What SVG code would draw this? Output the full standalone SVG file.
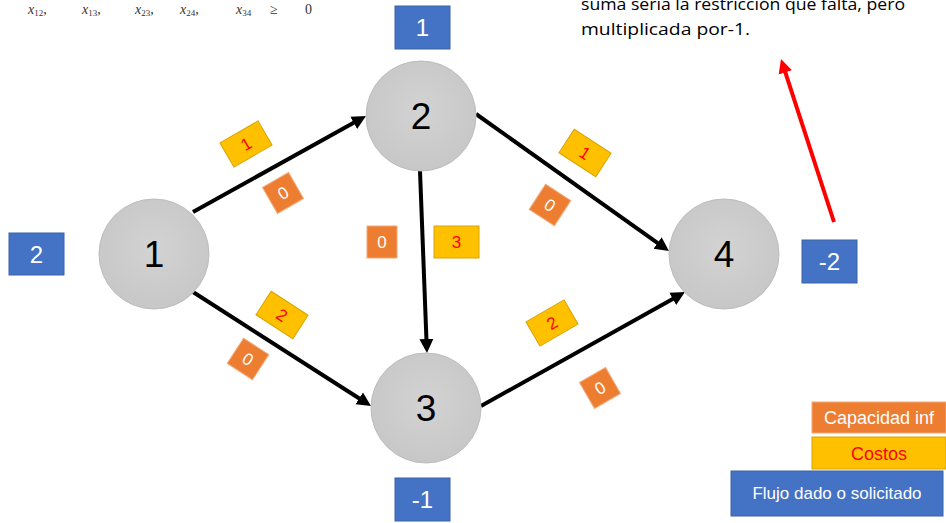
<svg xmlns="http://www.w3.org/2000/svg" width="946" height="523" viewBox="0 0 946 523">
  <defs>
    <radialGradient id="nodeFill" cx="50%" cy="45%" r="60%">
      <stop offset="0" stop-color="#d3d3d3"/>
      <stop offset="1" stop-color="#c6c6c6"/>
    </radialGradient>
    <marker id="headBlack" markerUnits="userSpaceOnUse" markerWidth="16" markerHeight="16" refX="2" refY="0" viewBox="0 -8 16 16" orient="auto">
      <path d="M0,-7 L14,0 L0,7 z" fill="#000"/>
    </marker>
    <marker id="headRed" markerUnits="userSpaceOnUse" markerWidth="16" markerHeight="16" refX="2" refY="0" viewBox="0 -8 16 16" orient="auto">
      <path d="M0,-7 L14,0 L0,7 z" fill="#ff0000"/>
    </marker>
  </defs>
  <style>
    .node circle { fill: url(#nodeFill); stroke: #bdbdbd; stroke-width: 1; }
    .node text { font-family: "Liberation Sans", Arial, sans-serif; font-size: 37px; fill: #000; text-anchor: middle; }
    .flow rect { fill: #4472c4; stroke: #3a62a8; stroke-width: 1; }
    .flow text { font-family: "Liberation Sans", Arial, sans-serif; font-size: 24px; fill: #fff; text-anchor: middle; }
    .edge { stroke: #000; stroke-width: 4; fill: none; marker-end: url(#headBlack); }
    .cost rect { fill: #ffc000; stroke: #d9a400; stroke-width: 1; }
    .cost text { font-family: "Liberation Sans", Arial, sans-serif; font-size: 17px; fill: #ff0000; text-anchor: middle; }
    .cap rect { fill: #ed7d31; stroke: #f3a877; stroke-width: 1; }
    .cap text { font-family: "Liberation Sans", Arial, sans-serif; font-size: 17px; fill: #fff; text-anchor: middle; }
    .note { font-family: "Open Sans", "Liberation Sans", sans-serif; font-size: 16px; fill: #000; }
    .math { font-family: "Liberation Serif", "DejaVu Serif", serif; font-size: 14px; fill: #333; }
    .math .it { font-style: italic; }
    .math .sub { font-size: 9px; }
    #legend .cap text, #legend .cost text { font-size: 18px; }
    #legend .flow text { font-size: 17px; }
  </style>

  <rect width="946" height="523" fill="#fff"/>

  <!-- non-negativity constraint -->
  <g class="math">
    <text x="28" y="14"><tspan class="it">x</tspan><tspan class="sub" dy="2">12</tspan><tspan dy="-2">,</tspan></text>
    <text x="82" y="14"><tspan class="it">x</tspan><tspan class="sub" dy="2">13</tspan><tspan dy="-2">,</tspan></text>
    <text x="135" y="14"><tspan class="it">x</tspan><tspan class="sub" dy="2">23</tspan><tspan dy="-2">,</tspan></text>
    <text x="180" y="14"><tspan class="it">x</tspan><tspan class="sub" dy="2">24</tspan><tspan dy="-2">,</tspan></text>
    <text x="236" y="14"><tspan class="it">x</tspan><tspan class="sub" dy="2">34</tspan></text>
    <text x="270" y="14">≥</text>
    <text x="305" y="14">0</text>
  </g>

  <!-- explanatory note -->
  <text class="note" x="581" y="10" textLength="324" lengthAdjust="spacingAndGlyphs">suma sería la restricción que falta, pero</text>
  <text class="note" x="581" y="35" textLength="169" lengthAdjust="spacingAndGlyphs">multiplicada por-1.</text>

  <!-- connectors -->
  <g id="connectors">
    <line id="e12" class="edge" x1="193" y1="212" x2="355.5" y2="121.8"/>
    <line id="e13" class="edge" x1="193" y1="292" x2="360.9" y2="399.5"/>
    <line id="e23" class="edge" x1="420" y1="171" x2="426.5" y2="341"/>
    <line id="e24" class="edge" x1="476" y1="114" x2="659.2" y2="244.1"/>
    <line id="e34" class="edge" x1="481" y1="406" x2="674.5" y2="297.9"/>
    <line id="note-arrow" x1="834" y1="222" x2="784.7" y2="70.4" stroke="#ff0000" stroke-width="4" marker-end="url(#headRed)"/>
  </g>

  <!-- nodes -->
  <g id="node1" class="node"><circle cx="154" cy="254" r="55"/><text x="154" y="267">1</text></g>
  <g id="node2" class="node"><circle cx="421" cy="116" r="55"/><text x="421" y="129">2</text></g>
  <g id="node3" class="node"><circle cx="426" cy="408" r="55"/><text x="426" y="421">3</text></g>
  <g id="node4" class="node"><circle cx="724" cy="254" r="55"/><text x="724" y="267">4</text></g>

  <!-- supply / demand at each node -->
  <g id="flow1" class="flow"><rect x="9" y="233" width="55" height="42"/><text x="36.5" y="263">2</text></g>
  <g id="flow2" class="flow"><rect x="395" y="6" width="55" height="43"/><text x="422.5" y="36">1</text></g>
  <g id="flow3" class="flow"><rect x="395" y="478" width="55" height="43"/><text x="422.5" y="508">-1</text></g>
  <g id="flow4" class="flow"><rect x="802" y="240" width="55" height="43"/><text x="829.5" y="270">-2</text></g>

  <!-- arc costs and lower capacities -->
  <g id="labels-e12">
    <g class="cost" transform="translate(246,144) rotate(-30)"><rect x="-22" y="-14" width="44" height="28"/><text x="0" y="6">1</text></g>
    <g class="cap" transform="translate(283,193) rotate(-30)"><rect x="-15" y="-15" width="30" height="30"/><text x="0" y="6">0</text></g>
  </g>
  <g id="labels-e13">
    <g class="cost" transform="translate(282,315) rotate(33)"><rect x="-22" y="-14" width="44" height="28"/><text x="0" y="6">2</text></g>
    <g class="cap" transform="translate(248,359) rotate(33)"><rect x="-15" y="-15" width="30" height="30"/><text x="0" y="6">0</text></g>
  </g>
  <g id="labels-e23">
    <g class="cap"><rect x="367" y="226" width="30" height="32"/><text x="382" y="248">0</text></g>
    <g class="cost"><rect x="434" y="226" width="45" height="32"/><text x="456.5" y="248">3</text></g>
  </g>
  <g id="labels-e24">
    <g class="cost" transform="translate(585,153) rotate(33)"><rect x="-22" y="-14" width="44" height="28"/><text x="0" y="6">1</text></g>
    <g class="cap" transform="translate(550,205) rotate(33)"><rect x="-15" y="-15" width="30" height="30"/><text x="0" y="6">0</text></g>
  </g>
  <g id="labels-e34">
    <g class="cost" transform="translate(552,323) rotate(-30)"><rect x="-22" y="-14" width="44" height="28"/><text x="0" y="6">2</text></g>
    <g class="cap" transform="translate(600,388) rotate(-30)"><rect x="-15" y="-15" width="30" height="30"/><text x="0" y="6">0</text></g>
  </g>

  <!-- legend -->
  <g id="legend">
    <g class="cap"><rect x="812" y="402" width="134" height="31"/><text x="879" y="424">Capacidad inf</text></g>
    <g class="cost"><rect x="812" y="437" width="134" height="32"/><text x="879" y="460">Costos</text></g>
    <g class="flow"><rect x="731" y="471" width="212" height="45"/><text x="837" y="499">Flujo dado o solicitado</text></g>
  </g>
</svg>
